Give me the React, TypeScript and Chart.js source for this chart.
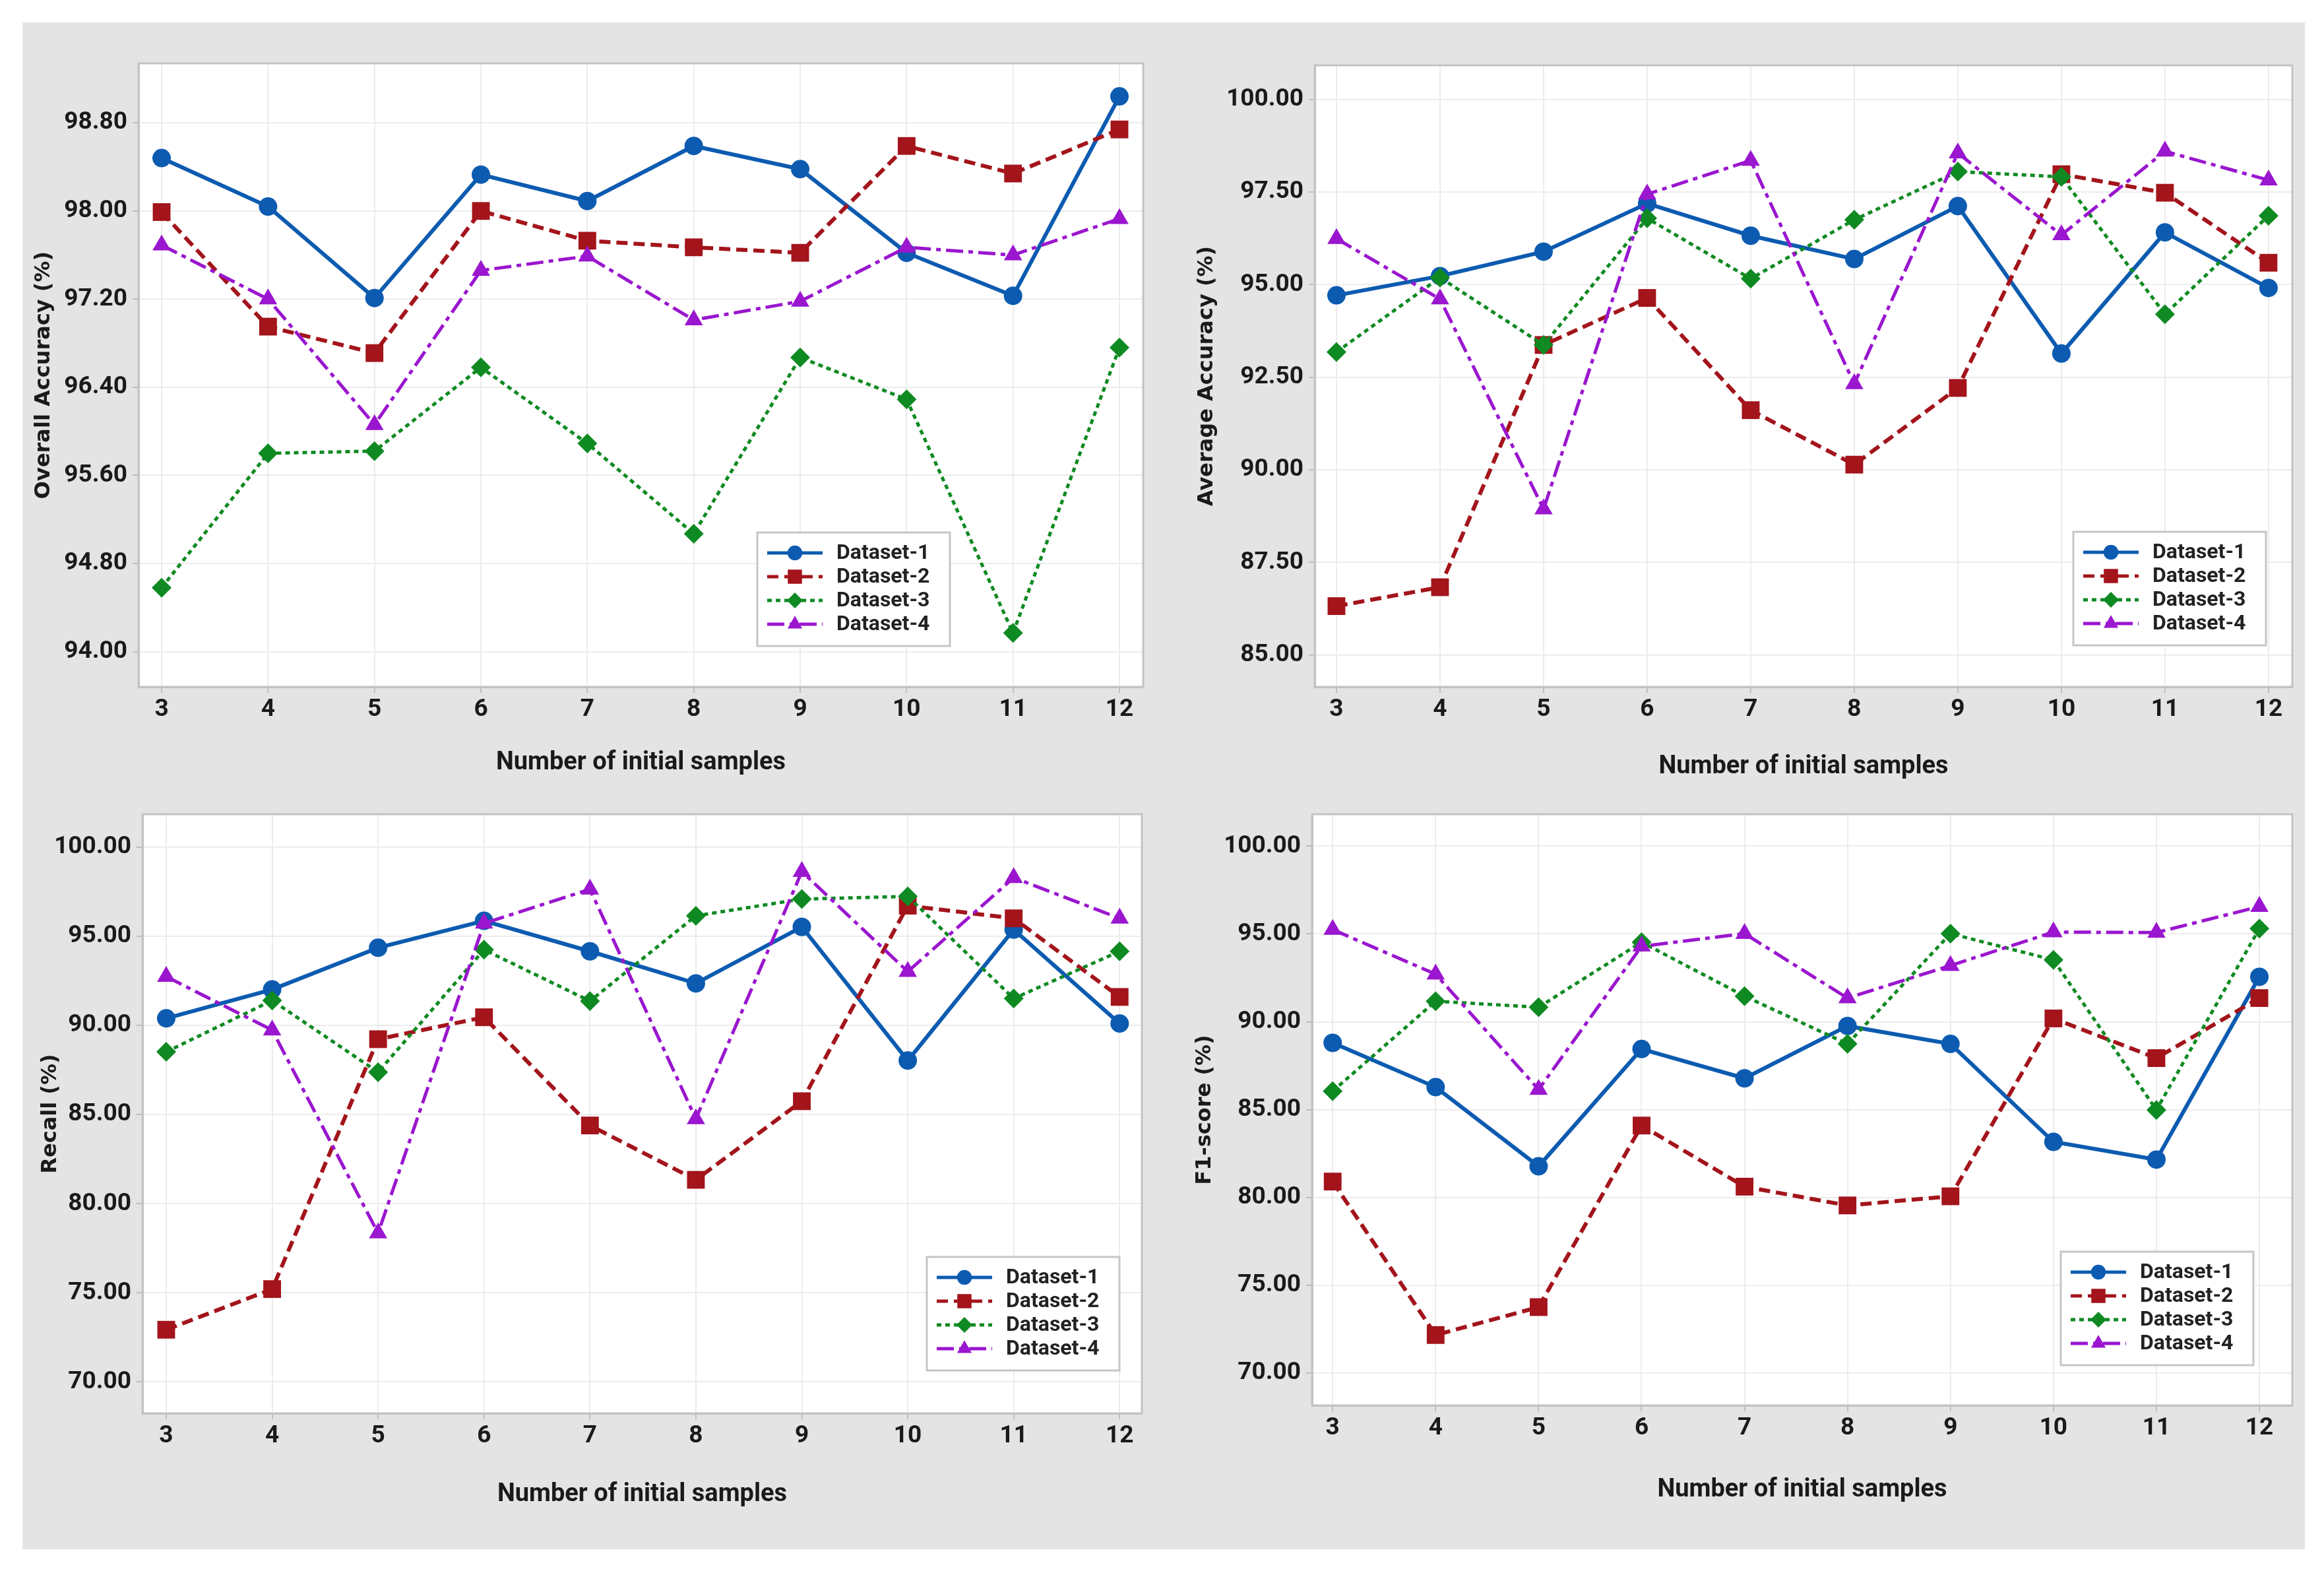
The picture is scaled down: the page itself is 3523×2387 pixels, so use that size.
import React, { useEffect, useRef } from 'react';
import { Chart, registerables } from 'chart.js';

Chart.register(...registerables);

// ---------------- data ----------------
const samples = [3, 4, 5, 6, 7, 8, 9, 10, 11, 12];
const datasetNames = ['Dataset-1', 'Dataset-2', 'Dataset-3', 'Dataset-4'];

const oaD1 = [98.48, 98.04, 97.21, 98.33, 98.09, 98.59, 98.38, 97.62, 97.23, 99.04];
const oaD2 = [97.99, 96.95, 96.71, 98.0, 97.73, 97.67, 97.62, 98.59, 98.34, 98.74];
const oaD3 = [94.58, 95.8, 95.82, 96.58, 95.89, 95.07, 96.67, 96.29, 94.17, 96.76];
const oaD4 = [97.69, 97.2, 96.06, 97.46, 97.59, 97.01, 97.18, 97.67, 97.6, 97.93];

const aaD1 = [94.71, 95.23, 95.89, 97.19, 96.32, 95.69, 97.12, 93.14, 96.41, 94.91];
const aaD2 = [86.32, 86.83, 93.37, 94.64, 91.61, 90.14, 92.21, 97.98, 97.48, 95.59];
const aaD3 = [93.18, 95.19, 93.37, 96.79, 95.16, 96.75, 98.05, 97.91, 94.2, 96.86];
const aaD4 = [96.24, 94.61, 88.94, 97.44, 98.35, 92.32, 98.55, 96.34, 98.6, 97.82];

const reD1 = [90.4, 92.02, 94.36, 95.87, 94.16, 92.36, 95.53, 88.03, 95.38, 90.11];
const reD2 = [72.93, 75.21, 89.23, 90.46, 84.39, 81.34, 85.75, 96.72, 96.01, 91.6];
const reD3 = [88.52, 91.4, 87.38, 94.25, 91.37, 96.15, 97.09, 97.24, 91.51, 94.16];
const reD4 = [92.74, 89.74, 78.35, 95.73, 97.64, 84.76, 98.63, 93.02, 98.29, 96.01];

const f1D1 = [88.8, 86.28, 81.77, 88.45, 86.78, 89.76, 88.74, 83.16, 82.15, 92.56];
const f1D2 = [80.9, 72.16, 73.75, 84.09, 80.61, 79.54, 80.06, 90.19, 87.93, 91.35];
const f1D3 = [86.05, 91.17, 90.83, 94.53, 91.46, 88.74, 95.02, 93.52, 84.98, 95.31];
const f1D4 = [95.25, 92.71, 86.14, 94.3, 95.02, 91.35, 93.2, 95.11, 95.08, 96.56];

const oaTicks = [94.0, 94.8, 95.6, 96.4, 97.2, 98.0, 98.8];
const aaTicks = [85.0, 87.5, 90.0, 92.5, 95.0, 97.5, 100.0];
const reTicks = [70, 75, 80, 85, 90, 95, 100];
const f1Ticks = [70, 75, 80, 85, 90, 95, 100];

const xTitle = 'Number of initial samples';

// ---------------- styles ----------------
const seriesStyles = [
  { color: '#0c5bb0', width: 6, dash: [] as number[], point: 'circle', radius: 14 },
  { color: '#a3141b', width: 6, dash: [17, 9], point: 'rect', radius: 19 },
  { color: '#0f8a22', width: 5, dash: [7, 6], point: 'rectRot', radius: 15 },
  { color: '#9a16cf', width: 5, dash: [26, 8, 7, 8], point: 'triangle', radius: 16 },
];

type Box = { l: number; t: number; r: number; b: number };
type PanelCfg = {
  key: string;
  yTitle: string;
  series: number[][];
  yTicks: number[];
  yMin: number;
  yMax: number;
  xMin: number;
  xMax: number;
  canvas: Box;
  plot: Box;
  yTitleOffset: number;
  xTitleOffset: number;
  legend: { right: number; bottom: number };
};

const panels: PanelCfg[] = [
  {
    key: 'oa', yTitle: 'Overall Accuracy (%)', series: [oaD1, oaD2, oaD3, oaD4], yTicks: oaTicks,
    yMin: 93.68, yMax: 99.34, xMin: 2.783, xMax: 12.223,
    canvas: { l: 34, t: 34, r: 1760, b: 1200 }, plot: { l: 210, t: 96, r: 1733, b: 1041 },
    yTitleOffset: 33, xTitleOffset: 44, legend: { right: 293, bottom: 62 },
  },
  {
    key: 'aa', yTitle: 'Average Accuracy (%)', series: [aaD1, aaD2, aaD3, aaD4], yTicks: aaTicks,
    yMin: 84.14, yMax: 100.92, xMin: 2.79, xMax: 12.23,
    canvas: { l: 1770, t: 34, r: 3494, b: 1200 }, plot: { l: 1993, t: 99, r: 3475, b: 1041 },
    yTitleOffset: 60, xTitleOffset: 38, legend: { right: 40, bottom: 63 },
  },
  {
    key: 're', yTitle: 'Recall (%)', series: [reD1, reD2, reD3, reD4], yTicks: reTicks,
    yMin: 68.24, yMax: 101.85, xMin: 2.776, xMax: 12.21,
    canvas: { l: 34, t: 1200, r: 1760, b: 2348 }, plot: { l: 216, t: 1234, r: 1731, b: 2142 },
    yTitleOffset: 43, xTitleOffset: 83, legend: { right: 34, bottom: 65 },
  },
  {
    key: 'f1', yTitle: 'F1-score (%)', series: [f1D1, f1D2, f1D3, f1D4], yTicks: f1Ticks,
    yMin: 68.15, yMax: 101.82, xMin: 2.8, xMax: 12.32,
    canvas: { l: 1770, t: 1200, r: 3494, b: 2348 }, plot: { l: 1989, t: 1234, r: 3480, b: 2130 },
    yTitleOffset: 57, xTitleOffset: 90, legend: { right: 59, bottom: 61 },
  },
];

// ---------------- helpers ----------------
function drawMarker(ctx: CanvasRenderingContext2D, style: string, r: number, x: number, y: number) {
  ctx.beginPath();
  if (style === 'circle') {
    ctx.arc(x, y, r, 0, Math.PI * 2);
  } else if (style === 'rect') {
    const s = Math.SQRT1_2 * r;
    ctx.rect(x - s, y - s, 2 * s, 2 * s);
  } else if (style === 'rectRot') {
    ctx.moveTo(x, y - r);
    ctx.lineTo(x + r, y);
    ctx.lineTo(x, y + r);
    ctx.lineTo(x - r, y);
    ctx.closePath();
  } else {
    const h = r * 1.5;
    const w = r * Math.sqrt(3);
    ctx.moveTo(x, y - r);
    ctx.lineTo(x + w / 2, y - r + h);
    ctx.lineTo(x - w / 2, y - r + h);
    ctx.closePath();
  }
  ctx.fill();
}

const plotFrame = {
  id: 'plotFrame',
  beforeDraw(chart: any) {
    const { ctx, chartArea: a } = chart;
    ctx.save();
    ctx.fillStyle = '#ffffff';
    ctx.fillRect(a.left, a.top, a.right - a.left, a.bottom - a.top);
    ctx.restore();
  },
  beforeDatasetsDraw(chart: any) {
    const { ctx, chartArea: a } = chart;
    ctx.save();
    ctx.strokeStyle = '#c3c3c3';
    ctx.lineWidth = 3;
    ctx.strokeRect(a.left, a.top, a.right - a.left, a.bottom - a.top);
    ctx.restore();
  },
};

const panelLegend = {
  id: 'panelLegend',
  afterDraw(chart: any, _args: any, opts: any) {
    const { ctx, chartArea: a } = chart;
    const w = 292;
    const h = 172;
    const x0 = a.right - opts.right - w;
    const y0 = a.bottom - opts.bottom - h;
    ctx.save();
    ctx.fillStyle = '#ffffff';
    ctx.fillRect(x0, y0, w, h);
    ctx.strokeStyle = '#c6c6c6';
    ctx.lineWidth = 3;
    ctx.strokeRect(x0, y0, w, h);
    datasetNames.forEach((name, i) => {
      const st = seriesStyles[i];
      const cy = y0 + 31 + i * 36;
      ctx.strokeStyle = st.color;
      ctx.lineWidth = 5;
      ctx.setLineDash(st.dash);
      ctx.beginPath();
      ctx.moveTo(x0 + 15, cy);
      ctx.lineTo(x0 + 99, cy);
      ctx.stroke();
      ctx.setLineDash([]);
      ctx.fillStyle = st.color;
      drawMarker(ctx, st.point, st.radius * 0.8, x0 + 57, cy);
      ctx.fillStyle = '#222222';
      ctx.font = 'bold 32px Roboto';
      ctx.textBaseline = 'middle';
      ctx.textAlign = 'left';
      ctx.fillText(name, x0 + 120, cy + 1);
    });
    ctx.restore();
  },
};

function Panel({ cfg }: { cfg: PanelCfg }) {
  const ref = useRef<HTMLCanvasElement>(null);
  const cw = cfg.canvas.r - cfg.canvas.l;
  const ch = cfg.canvas.b - cfg.canvas.t;

  useEffect(() => {
    const canvas = ref.current;
    if (!canvas) return;
    const c = cfg.canvas;
    const p = cfg.plot;
    const chart = new Chart(canvas, {
      type: 'line',
      data: {
        datasets: cfg.series.map((vals, i) => ({
          label: datasetNames[i],
          data: samples.map((s, j) => ({ x: s, y: vals[j] })),
          borderColor: seriesStyles[i].color,
          backgroundColor: seriesStyles[i].color,
          borderWidth: seriesStyles[i].width,
          borderDash: seriesStyles[i].dash,
          pointStyle: seriesStyles[i].point as any,
          pointRadius: seriesStyles[i].radius,
          pointHoverRadius: seriesStyles[i].radius,
          pointBorderWidth: 0,
          pointBackgroundColor: seriesStyles[i].color,
          pointBorderColor: seriesStyles[i].color,
          tension: 0,
          fill: false,
          order: 3 - i,
        })),
      },
      options: {
        responsive: false,
        animation: false,
        devicePixelRatio: 1,
        events: [],
        layout: { padding: { left: 0, top: p.t - c.t, right: c.r - p.r, bottom: 0 } },
        plugins: {
          legend: { display: false },
          tooltip: { enabled: false },
          panelLegend: cfg.legend,
        } as any,
        scales: {
          x: {
            type: 'linear',
            position: 'bottom',
            min: cfg.xMin,
            max: cfg.xMax,
            afterBuildTicks: (s: any) => {
              s.ticks = samples.map((v) => ({ value: v }));
            },
            afterFit: (s: any) => {
              s.height = c.b - p.b;
            },
            ticks: {
              autoSkip: false,
              maxRotation: 0,
              padding: 4,
              color: '#1a1a1a',
              font: { family: 'Roboto', weight: 'bold', size: 37 },
              callback: (v: any) => String(v),
            },
            grid: { color: '#ececec', lineWidth: 2, tickLength: 9, tickColor: '#bdbdbd', tickWidth: 2 },
            border: { display: true, color: '#c3c3c3', width: 3 },
            title: {
              display: true,
              text: xTitle,
              color: '#1a1a1a',
              font: { family: 'Roboto', weight: 'bold', size: 38 },
              padding: { top: 0, bottom: cfg.xTitleOffset - 22.8 },
            },
          },
          y: {
            type: 'linear',
            min: cfg.yMin,
            max: cfg.yMax,
            afterBuildTicks: (s: any) => {
              s.ticks = cfg.yTicks.map((v) => ({ value: v }));
            },
            afterFit: (s: any) => {
              s.width = p.l - c.l;
            },
            ticks: {
              autoSkip: false,
              padding: 8,
              color: '#1a1a1a',
              font: { family: 'Roboto', weight: 'bold', size: 37 },
              callback: (v: any) => Number(v).toFixed(2),
            },
            grid: { color: '#ececec', lineWidth: 2, tickLength: 9, tickColor: '#bdbdbd', tickWidth: 2 },
            border: { display: true, color: '#c3c3c3', width: 3 },
            title: {
              display: true,
              text: cfg.yTitle,
              color: '#1a1a1a',
              font: { family: 'DejaVu Sans', weight: 'bold', size: 32 },
              padding: { top: cfg.yTitleOffset - 19.2, bottom: 0 },
            },
          },
        },
      },
      plugins: [plotFrame, panelLegend],
    });
    return () => chart.destroy();
  }, [cfg]);

  return (
    <canvas
      ref={ref}
      width={cw}
      height={ch}
      style={{ position: 'absolute', left: cfg.canvas.l, top: cfg.canvas.t, width: cw, height: ch }}
    />
  );
}

export default function App() {
  return (
    <div
      style={{
        position: 'absolute',
        left: 0,
        top: 0,
        width: 3523,
        height: 2387,
        background: '#ffffff',
        overflow: 'hidden',
      }}
    >
      <div
        style={{ position: 'absolute', left: 34, top: 34, width: 3460, height: 2314, background: '#e4e4e4' }}
      />
      {panels.map((p) => (
        <Panel key={p.key} cfg={p} />
      ))}
    </div>
  );
}
